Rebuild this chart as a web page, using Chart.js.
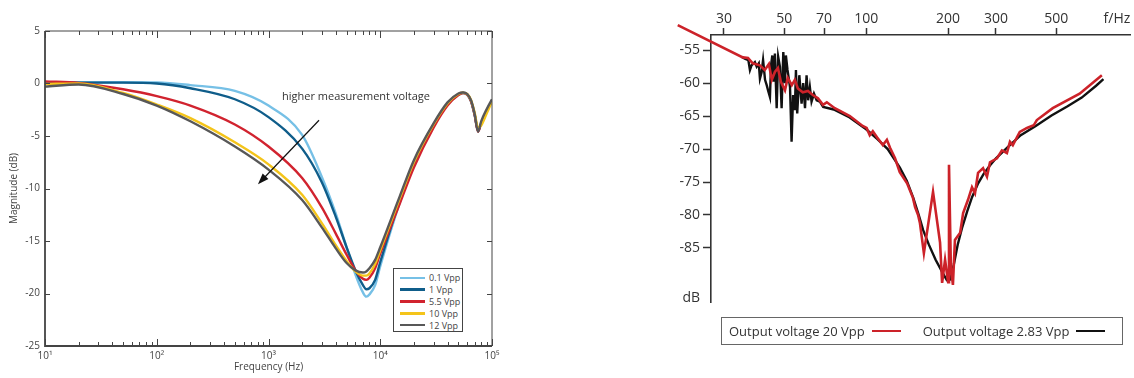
<!DOCTYPE html>
<html>
<head>
<meta charset="utf-8">
<script src="https://cdn.jsdelivr.net/npm/chart.js@4.4.1/dist/chart.umd.min.js"></script>
<style>
  body { margin: 0; background: #fff; font-family: "Open Sans", "Noto Sans", sans-serif; }
  #wrap { position: relative; width: 1134px; height: 378px; overflow: hidden; }
  .box { position: absolute; top: 0; height: 378px; }
  #leftBox { left: 0; width: 510px; }
  #rightBox { left: 640px; width: 494px; }
  #legendLeft { position: absolute; left: 393px; top: 268px; width: 70px; height: 64px; border: 1px solid #444;
    background: #fff; box-sizing: border-box; padding-top: 3px; }
  #legendLeft .row { display: flex; align-items: center; height: 11.8px; font-size: 9px; color: #444; white-space: nowrap; }
  #legendLeft .swatch { width: 25px; height: 2.5px; margin: 0 4px 0 6px; flex-shrink: 0; }
  #legendRight { position: absolute; left: 721px; top: 317px; width: 402px; height: 28px; border: 1px solid #666;
    box-sizing: border-box; display: flex; align-items: center; font-size: 13px; color: #333; padding-left: 7px;
    white-space: nowrap; }
  #legendRight .swatch { width: 29px; height: 2.5px; margin: 0 22px 0 7px; flex-shrink: 0; }
</style>
</head>
<body>
<div id="wrap">
  <div class="box" id="leftBox"><canvas id="magChart"></canvas></div>
  <div class="box" id="rightBox"><canvas id="outChart"></canvas></div>
  <div id="legendLeft"></div>
  <div id="legendRight"></div>
</div>
<script>
//left panel: magnitude (dB) over frequency for several measurement voltages
const freqHz = [10, 20, 50, 100, 200, 500, 1000, 2000, 3000, 4000, 5000, 6000, 7000, 7500, 8000, 9000,
  10000, 15000, 20000, 30000, 40000, 50000, 55000, 60000, 65000, 70000, 75000, 80000, 90000, 100000];
const mag01 = [0.1, 0.12, 0.12, 0.1, -0.15, -0.7, -2.1, -4.9, -8.9, -12.4, -15.6, -18.2, -19.9, -20.3, -20.1, -19.2,
  -17.4, -11.3, -7.7, -4.0, -2.0, -1.1, -0.9, -1.1, -1.7, -3.0, -4.5, -3.8, -2.6, -1.6];
const mag1 = [0.05, 0.08, 0.08, 0.0, -0.45, -1.5, -3.2, -6.2, -9.4, -12.7, -15.6, -17.8, -19.2, -19.6, -19.5, -18.7,
  -17.0, -11.1, -7.6, -3.95, -1.95, -1.05, -0.88, -1.05, -1.7, -3.0, -4.5, -3.8, -2.6, -1.6];
const mag55 = [0.2, 0.05, -0.55, -1.2, -2.1, -3.9, -6.0, -9.0, -11.8, -14.3, -16.3, -17.8, -18.6, -18.7, -18.5, -17.6,
  -16.2, -11.4, -8.0, -4.2, -2.1, -1.1, -0.9, -1.05, -1.7, -3.0, -4.6, -3.8, -2.6, -1.6];
const mag10 = [-0.05, 0.0, -0.9, -2.0, -3.3, -5.6, -7.7, -10.6, -13.3, -15.4, -16.9, -17.9, -18.3, -18.3, -18.1, -17.2,
  -15.9, -10.9, -7.5, -3.9, -1.9, -1.0, -0.88, -1.0, -1.6, -2.8, -4.2, -4.0, -2.8, -1.7];
const mag12 = [-0.3, -0.1, -1.0, -2.1, -3.6, -6.0, -8.2, -11.1, -13.7, -15.7, -17.1, -17.8, -18.0, -17.9, -17.6, -16.8,
  -15.6, -10.7, -7.3, -3.8, -1.8, -0.95, -0.85, -1.0, -1.6, -2.9, -4.6, -3.6, -2.4, -1.5];
const magSeries = [mag01, mag1, mag55, mag10, mag12];
const magNames = ["0.1 Vpp", "1 Vpp", "5.5 Vpp", "10 Vpp", "12 Vpp"];
const magColors = ["#76c0e6", "#0f5d8a", "#d1232f", "#f4c41a", "#585858"];
const decadeTicks = [10, 100, 1000, 10000, 100000];
const decadeLabels = ["10¹", "10²", "10³", "10⁴", "10⁵"];
const magTicks = [-25, -20, -15, -10, -5, 0, 5];
//annotation in data units (Hz, dB)
const noteText = "higher measurement voltage";
const notePos = [6070, -1.3];
const arrowFrom = [2833, -3.5];
const arrowTo = [805, -9.6];

//right panel: output level at two voltages
const outFreq20 = [20.3, 35.2, 36.8, 38.3, 40.7, 42.4, 43.9, 45.0, 46.2, 47.4, 48.6, 50.3, 51.5, 53.3, 54.7, 56.1,
  58.5, 61.1, 63.7, 66.5, 69.4, 71.7, 76.7, 87.1, 97.1, 100.4, 103.1, 105.8, 109.6, 115.2, 119.2, 122.4, 127.7,
  132.9, 141.4, 148.6, 151.3, 155.2, 157.6, 163.0, 176.1, 186.9, 190.2, 195.0, 200.1, 201.6, 204.8, 208.4, 212.0,
  221.6, 227.2, 236.8, 244.9, 251.2, 257.8, 268.9, 278.0, 285.2, 302.6, 315.5, 329.1, 337.7, 346, 367, 390, 413,
  424, 485, 609, 735];
const outDb20 = [-51.2, -56.1, -56.2, -57.0, -57.3, -58.0, -57.1, -59.5, -58.3, -57.7, -59.8, -61.1, -59.2, -60.3,
  -59.5, -60.8, -61.4, -61.2, -61.8, -62.3, -63.3, -62.9, -63.8, -65.0, -66.5, -66.8, -67.9, -67.3, -68.2, -69.4,
  -68.6, -69.8, -71.4, -73.5, -75.2, -77.4, -78.8, -80.0, -81.2, -85.8, -76.5, -84.2, -90.3, -86.8, -90.2, -72.4,
  -87.9, -90.6, -83.8, -82.7, -79.7, -77.7, -75.8, -76.7, -73.6, -72.9, -74.2, -72.0, -71.4, -70.2, -70.6, -68.9,
  -69.4, -67.4, -66.8, -66.4, -65.6, -63.8, -61.6, -58.8];
const outFreq283 = [34.8, 35.8, 36.9, 37.4, 37.9, 39.0, 39.6, 40.3, 40.7, 41.3, 41.8, 42.5, 43.1, 43.6, 44.3, 44.7,
  45.2, 45.7, 46.2, 46.9, 47.5, 48.2, 48.9, 49.6, 50.3, 50.7, 51.4, 52.5, 53.2, 53.9, 54.7, 55.2, 55.8, 56.8, 57.9,
  58.7, 59.6, 60.4, 61.2, 62.1, 63.0, 64.3, 65.8, 67.6, 69.5, 76, 87, 100, 110, 120, 133, 141, 149, 156, 162, 170,
  180, 190, 198, 204, 210, 217, 225, 235, 245, 258, 270, 285, 300, 330, 370, 420, 480, 550, 620, 700, 745];
const outDb283 = [-56.0, -56.3, -56.5, -58.0, -57.3, -56.8, -57.5, -57.0, -59.3, -58.3, -56.5, -59.5, -60.3, -61.1,
  -62.1, -57.3, -55.8, -59.8, -55.5, -63.8, -56.0, -57.5, -63.8, -55.3, -60.0, -55.8, -58.0, -60.6, -68.9, -61.8,
  -64.1, -58.0, -64.6, -58.8, -63.1, -60.0, -63.8, -58.8, -62.6, -60.6, -62.8, -61.6, -62.6, -62.8, -63.6, -64.0,
  -65.2, -67.0, -68.5, -70.0, -72.8, -74.8, -77.4, -80.0, -82.3, -84.5, -86.8, -88.6, -89.9, -89.8, -87.5, -84.5,
  -82.0, -79.5, -77.3, -75.2, -73.8, -72.5, -71.4, -69.8, -67.9, -66.5, -64.9, -63.5, -62.2, -60.4, -59.4];
const outNames = ["Output voltage 20 Vpp", "Output voltage 2.83 Vpp"];
const outColors = ["#cc2229", "#111111"];
const freqTicks = [30, 50, 70, 100, 200, 300, 500];
const dbTicks = [-85, -80, -75, -70, -65, -60, -55];
const freqUnitAt = 835;   //where "f/Hz" sits on the top axis
const dbUnitAt = -92.6;   //where "dB" sits on the left axis

const toPoints = (xs, ys) => xs.map((v, i) => ({ x: v, y: ys[i] }));

//box with inward ticks, like the matlab plot
const frameTicks = {
  id: "frameTicks",
  afterDraw(chart) {
    const { ctx, chartArea: a, scales: { x, y } } = chart;
    ctx.save();
    ctx.strokeStyle = "#444";
    ctx.lineWidth = 1;
    ctx.beginPath();
    ctx.moveTo(a.left, a.top); ctx.lineTo(a.right, a.top); ctx.lineTo(a.right, a.bottom);
    ctx.stroke();
    ctx.lineWidth = 1.8;
    ctx.beginPath();
    ctx.moveTo(a.left, a.top); ctx.lineTo(a.left, a.bottom); ctx.lineTo(a.right, a.bottom);
    ctx.stroke();
    ctx.lineWidth = 1;
    ctx.beginPath();
    x.ticks.forEach(t => {
      const px = Math.round(x.getPixelForValue(t.value)) + 0.5;
      const len = decadeTicks.includes(t.value) ? 7 : 4;
      ctx.moveTo(px, a.bottom); ctx.lineTo(px, a.bottom - len);
      ctx.moveTo(px, a.top); ctx.lineTo(px, a.top + len);
    });
    y.ticks.forEach(t => {
      const py = Math.round(y.getPixelForValue(t.value)) + 0.5;
      ctx.moveTo(a.left, py); ctx.lineTo(a.left + 5, py);
      ctx.moveTo(a.right, py); ctx.lineTo(a.right - 5, py);
    });
    ctx.stroke();
    ctx.restore();
  }
};

//text and arrow, placed through the scales
const voltageNote = {
  id: "voltageNote",
  afterDatasetsDraw(chart) {
    const { ctx, scales: { x, y } } = chart;
    ctx.save();
    ctx.fillStyle = "#333";
    ctx.font = '11px "Open Sans", sans-serif';
    ctx.textAlign = "center";
    ctx.textBaseline = "middle";
    ctx.fillText(noteText, x.getPixelForValue(notePos[0]), y.getPixelForValue(notePos[1]));
    const x0 = x.getPixelForValue(arrowFrom[0]), y0 = y.getPixelForValue(arrowFrom[1]);
    const x1 = x.getPixelForValue(arrowTo[0]), y1 = y.getPixelForValue(arrowTo[1]);
    const ang = Math.atan2(y1 - y0, x1 - x0);
    ctx.strokeStyle = "#111";
    ctx.lineWidth = 1.2;
    ctx.beginPath();
    ctx.moveTo(x0, y0);
    ctx.lineTo(x1 - 8 * Math.cos(ang), y1 - 8 * Math.sin(ang));
    ctx.stroke();
    ctx.fillStyle = "#111";
    ctx.beginPath();
    ctx.moveTo(x1, y1);
    ctx.lineTo(x1 - 11 * Math.cos(ang) + 4 * Math.sin(ang), y1 - 11 * Math.sin(ang) - 4 * Math.cos(ang));
    ctx.lineTo(x1 - 11 * Math.cos(ang) - 4 * Math.sin(ang), y1 - 11 * Math.sin(ang) + 4 * Math.cos(ang));
    ctx.closePath();
    ctx.fill();
    ctx.restore();
  }
};

//minor log ticks 1..9 per decade
const logMinor = [];
decadeTicks.forEach(d => {
  for (let k = 1; k <= 9; k++) if (d * k <= 100000) logMinor.push(d * k);
});

const leftFont = { family: '"Open Sans", "Noto Sans", sans-serif', size: 10 };

new Chart(document.getElementById("magChart"), {
  type: "scatter",
  plugins: [frameTicks, voltageNote],
  data: {
    datasets: magSeries.map((s, i) => ({
      label: magNames[i],
      data: toPoints(freqHz, s),
      showLine: true,
      borderColor: magColors[i],
      backgroundColor: magColors[i],
      borderWidth: 2.4,
      pointRadius: 0,
      cubicInterpolationMode: "monotone",
      order: magSeries.length - i,
    })),
  },
  options: {
    responsive: true,
    maintainAspectRatio: false,
    animation: false,
    layout: { padding: { top: 31, right: 18, bottom: 0, left: 0 } },
    plugins: { legend: { display: false }, tooltip: { enabled: false } },
    scales: {
      x: {
        type: "logarithmic",
        min: 10,
        max: 100000,
        afterBuildTicks: s => { s.ticks = logMinor.map(v => ({ value: v })); },
        afterFit: s => { s.height = 32; },
        grid: { display: false, drawTicks: false },
        border: { display: false },
        ticks: {
          autoSkip: false,
          maxRotation: 0,
          padding: 4,
          color: "#444",
          font: leftFont,
          callback: v => {
            const k = decadeTicks.indexOf(v);
            return k >= 0 ? decadeLabels[k] : "";
          },
        },
        title: { display: true, text: "Frequency (Hz)", color: "#444", font: leftFont, padding: { top: 0, bottom: 5 } },
      },
      y: {
        min: -25,
        max: 5,
        afterBuildTicks: s => { s.ticks = magTicks.map(v => ({ value: v })); },
        afterFit: s => { s.width = 45; },
        grid: { display: false, drawTicks: false },
        border: { display: false },
        ticks: { padding: 5, color: "#444", font: leftFont },
        title: { display: true, text: "Magnitude (dB)", color: "#444", font: leftFont, padding: { top: 8, bottom: 0 } },
      },
    },
  },
});

const rightFont = { family: '"Open Sans", "Noto Sans", sans-serif', size: 14 };

new Chart(document.getElementById("outChart"), {
  type: "scatter",
  data: {
    datasets: [
      {
        label: outNames[0],
        data: toPoints(outFreq20, outDb20),
        showLine: true,
        borderColor: outColors[0],
        borderWidth: 2.6,
        pointRadius: 0,
        clip: false,
      },
      {
        label: outNames[1],
        data: toPoints(outFreq283, outDb283),
        showLine: true,
        borderColor: outColors[1],
        borderWidth: 2.4,
        pointRadius: 0,
        clip: false,
      },
    ],
  },
  options: {
    responsive: true,
    maintainAspectRatio: false,
    animation: false,
    layout: { padding: { top: 0, right: 4, bottom: 76, left: 0 } },
    plugins: { legend: { display: false }, tooltip: { enabled: false } },
    scales: {
      x: {
        type: "logarithmic",
        position: "top",
        min: 26.9,
        max: 932.7,
        afterBuildTicks: s => { s.ticks = freqTicks.concat([freqUnitAt]).map(v => ({ value: v })); },
        afterFit: s => { s.height = 35; },
        grid: {
          drawOnChartArea: false,
          tickLength: 7,
          tickWidth: 1.5,
          tickColor: c => (c.tick && c.tick.value === freqUnitAt ? "rgba(0,0,0,0)" : "#333"),
        },
        border: { display: true, color: "#333", width: 1.6 },
        ticks: {
          autoSkip: false,
          maxRotation: 0,
          padding: 1,
          color: "#333",
          font: rightFont,
          callback: v => (v === freqUnitAt ? "f/Hz" : String(v)),
        },
      },
      y: {
        min: -93.2,
        max: -52.7,
        afterBuildTicks: s => { s.ticks = [dbUnitAt].concat(dbTicks).map(v => ({ value: v })); },
        afterFit: s => { s.width = 71; },
        grid: {
          drawOnChartArea: false,
          tickLength: 8,
          tickWidth: 1.5,
          tickColor: c => (c.tick && c.tick.value === dbUnitAt ? "rgba(0,0,0,0)" : "#333"),
        },
        border: { display: true, color: "#333", width: 1.6 },
        ticks: {
          padding: 3,
          color: "#333",
          font: rightFont,
          callback: v => (v === dbUnitAt ? "dB" : String(v)),
        },
      },
    },
  },
});

//legends drawn as html boxes
const legendLeft = document.getElementById("legendLeft");
magNames.forEach((n, i) => {
  legendLeft.insertAdjacentHTML("beforeend",
    `<div class="row"><span class="swatch" style="background:${magColors[i]}"></span><span>${n}</span></div>`);
});
const legendRight = document.getElementById("legendRight");
outNames.forEach((n, i) => {
  legendRight.insertAdjacentHTML("beforeend",
    `<span>${n}</span><span class="swatch" style="background:${outColors[i]}"></span>`);
});
</script>
</body>
</html>
